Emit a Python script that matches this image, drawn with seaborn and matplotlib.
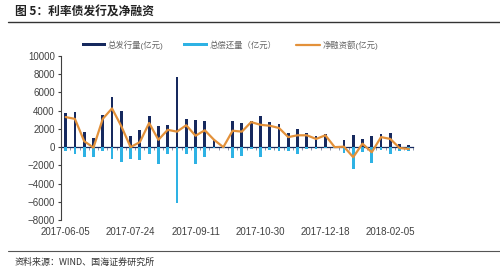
import numpy as np
import pandas as pd
import matplotlib
matplotlib.use("Agg")
import matplotlib.pyplot as plt
import seaborn as sns

# weekly data, 2017-06-05 .. 2018-02-19
weeks = pd.date_range("2017-06-05", periods=38, freq="7D").strftime("%Y-%m-%d").tolist()

issue = [3700, 3900, 1700, 950, 3500, 5500, 4000, 1200, 1900, 3400,
         2350, 2450, 7750, 3080, 2950, 2820, 850, 100, 2900, 2700,
         2820, 3440, 2710, 2560, 1500, 1950, 1540, 1170, 1400, 100,
         800, 1300, 900, 1170, 1460, 1600, 300, 200]
repay = [-440, -800, -1100, -1030, -370, -1250, -1650, -1280, -1400, -800,
         -1800, -700, -6100, -720, -1800, -1030, -50, -100, -1150, -1000,
         -250, -1030, -350, -450, -400, -700, -250, -250, -150, -100,
         -600, -2440, -500, -1760, -300, -700, -400, -400]
net = [3300, 3100, 650, -50, 3100, 4250, 2300, 0, 550, 2650,
       800, 1900, 1700, 2400, 1250, 1850, 800, 0, 1800, 1700,
       2750, 2450, 2350, 2100, 1100, 1300, 1300, 900, 1300, 0,
       50, -1100, 380, -560, 1100, 900, -100, -200]

tick_labels = ["2017-06-05", "2017-07-24", "2017-09-11", "2017-10-30", "2017-12-18", "2018-02-05"]

navy = "#16295e"
sky = "#2eb2e4"
orange = "#e3913a"
grey = "#404040"

df = pd.DataFrame({"week": weeks, "issue": issue, "repay": repay, "net": net})

sns.set_style("white")
plt.rcParams["font.family"] = ["Liberation Sans", "Noto Sans CJK SC"]

fig = plt.figure(figsize=(5.0, 2.68), dpi=100)
ax = fig.add_axes([0.122, 0.179, 0.705, 0.612])

sns.barplot(data=df, x="week", y="issue", color=navy, width=0.3, saturation=1,
            linewidth=0, ax=ax, label="总发行量(亿元)")
sns.barplot(data=df, x="week", y="repay", color=sky, width=0.3, saturation=1,
            linewidth=0, ax=ax, label="总偿还量（亿元）")
sns.lineplot(data=df, x="week", y="net", color=orange, linewidth=1.6, ax=ax,
             label="净融资额(亿元)", zorder=4)

ax.set_xlim(-0.5, len(weeks) - 0.5)
ax.set_ylim(-8000, 10000)
ax.set_yticks(np.arange(-8000, 10001, 2000))
ax.set_xlabel("")
ax.set_ylabel("")

ax.set_xticks([weeks.index(t) for t in tick_labels])
ax.set_xticklabels(tick_labels)
ax.tick_params(axis="x", length=0, labelsize=7, colors=grey, pad=5)
ax.tick_params(axis="y", length=2.5, width=0.8, labelsize=7, colors=grey, pad=2,
               direction="out", left=True)

for s in ["top", "right", "bottom"]:
    ax.spines[s].set_visible(False)
ax.spines["left"].set_color(grey)
ax.spines["left"].set_linewidth(0.8)

# zero line with small category ticks
zero = ax.secondary_xaxis(8000 / 18000)
zero.set_xticks(np.arange(len(weeks) + 1) - 0.5)
zero.set_xticklabels([])
zero.tick_params(length=2, width=0.6, direction="out", colors="#7a86a0")
zero.spines["bottom"].set_color(navy)
zero.spines["bottom"].set_linewidth(0.9)

handles, labels = ax.get_legend_handles_labels()
order = [labels.index(l) for l in ["总发行量(亿元)", "总偿还量（亿元）", "净融资额(亿元)"]]
leg = ax.legend([handles[i] for i in order], [labels[i] for i in order],
                loc="lower center", bbox_to_anchor=(0.479, 0.99), ncol=3, frameon=False,
                fontsize=6, handlelength=2.9, handletextpad=0.2, columnspacing=2.4)
for h in leg.legend_handles:
    if hasattr(h, "set_height"):
        h.set_height(2.2)
        h.set_y(h.get_y() + 1.3)
for t in leg.get_texts():
    t.set_color("#666666")

# header and footer
fig.text(0.03, 0.955, "图 5：利率债发行及净融资", fontsize=8.5, fontweight="bold",
         color="#222222", va="center", family=["Noto Sans CJK SC", "DejaVu Sans"])
fig.add_artist(plt.Line2D([0.016, 1.0], [0.918, 0.918], color="#333333", linewidth=1.0))
fig.add_artist(plt.Line2D([0.016, 1.0], [0.062, 0.062], color="#555555", linewidth=0.8))
fig.text(0.03, 0.022, "资料来源：WIND、国海证券研究所", fontsize=6.5, color="#333333",
         va="center", family=["Noto Sans CJK SC", "DejaVu Sans"])

fig.savefig("out.png", dpi=100)
